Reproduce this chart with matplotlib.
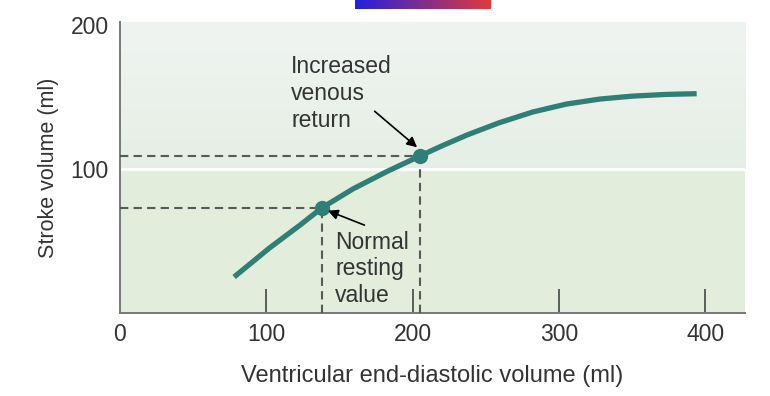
import numpy as np
import matplotlib.pyplot as plt
from matplotlib.colors import LinearSegmentedColormap

plt.rcParams['font.family'] = ['Liberation Sans', 'DejaVu Sans']

# curve (ventricular EDV vs stroke volume)
edv = [78, 102, 123, 138, 159, 182, 205, 220, 237, 259, 282, 305, 328, 350, 373, 394]
sv = [25, 45, 61, 73, 86, 98, 109, 116, 123.5, 132, 139.5, 145, 148.5, 150.5, 151.7, 152.2]

normal_pt = (138, 73)
increased_pt = (205, 109)

xticks = [100, 200, 300, 400]
xtick_labels = ['0', '100', '200', '300', '400']
yticks = [100, 200]

teal = '#2f7f77'
dash_col = '#575b57'
txt = '#333333'

fig = plt.figure(figsize=(7.7, 3.96), dpi=100)
ax = fig.add_axes([0.1558, 0.2096, 0.8117, 0.735])
ax.set_xlim(0, 427)
ax.set_ylim(0, 202)

# background: gradient above 100, flat green below
grad = np.linspace(0, 1, 64).reshape(-1, 1)
c_top = np.array([0.941, 0.957, 0.945])
c_mid = np.array([0.898, 0.937, 0.898])
img = c_mid + (c_top - c_mid) * grad[..., None]
ax.imshow(img, extent=[0, 427, 100, 202], origin='lower', aspect='auto', zorder=0)
ax.axhspan(0, 100, color='#e2eddc', zorder=0, lw=0)
ax.axhline(100, color='white', lw=2, zorder=1)

ax.plot(edv, sv, color=teal, lw=3.8, solid_capstyle='butt', solid_joinstyle='round', zorder=4)

for px, py in [normal_pt, increased_pt]:
    ax.plot([0, px], [py, py], ls=(0, (4, 2.5)), color=dash_col, lw=1.5, zorder=3)
    ax.plot([px, px], [0, py], ls=(0, (4, 2.5)), color=dash_col, lw=1.5, zorder=3)
    ax.plot(px, py, 'o', color=teal, ms=10, zorder=5)

arrow = dict(arrowstyle='-|>', color='black', lw=1.2, shrinkA=0, shrinkB=0, mutation_scale=15)
ax.text(117, 179, 'Increased\nvenous\nreturn', fontsize=16.5, color=txt,
        ha='left', va='top', linespacing=1.22, zorder=6)
ax.annotate('', xy=(203, 115), xytext=(174, 140), arrowprops=arrow, zorder=6)
ax.annotate('', xy=(142, 71), xytext=(167, 61), arrowprops=arrow, zorder=6)
ax.text(147, 57, 'Normal\nresting\nvalue', fontsize=16.5, color=txt,
        ha='left', va='top', linespacing=1.2, zorder=6)

ax.set_xticks([0] + xticks)
ax.set_xticklabels(xtick_labels, fontsize=16.5, color=txt)
ax.set_yticks(yticks)
ax.set_yticklabels([str(v) for v in yticks], fontsize=16.5, color=txt)
ax.tick_params(axis='x', direction='in', length=17, width=1.2, color='#444444', pad=7)
ax.tick_params(axis='y', length=0, pad=8)
ax.xaxis.get_major_ticks()[0].tick1line.set_visible(False)

for s in ['top', 'right']:
    ax.spines[s].set_visible(False)
for s in ['left', 'bottom']:
    ax.spines[s].set_color('#777777')
    ax.spines[s].set_linewidth(1.4)

ax.set_xlabel('Ventricular end-diastolic volume (ml)', fontsize=17, color=txt, labelpad=14)
ax.set_ylabel('Stroke volume (ml)', fontsize=15.5, color=txt, labelpad=8)

# the little blue/red tab at the top of the screenshot
tab = fig.add_axes([355 / 770, 1 - 9 / 396, 136 / 770, 12 / 396])
tab.imshow(np.linspace(0, 1, 100).reshape(1, -1),
           cmap=LinearSegmentedColormap.from_list('br', ['#2222dd', '#e03a3a']),
           aspect='auto', extent=[0, 1, 0, 1])
tab.axis('off')

fig.savefig('out.png', dpi=100)
